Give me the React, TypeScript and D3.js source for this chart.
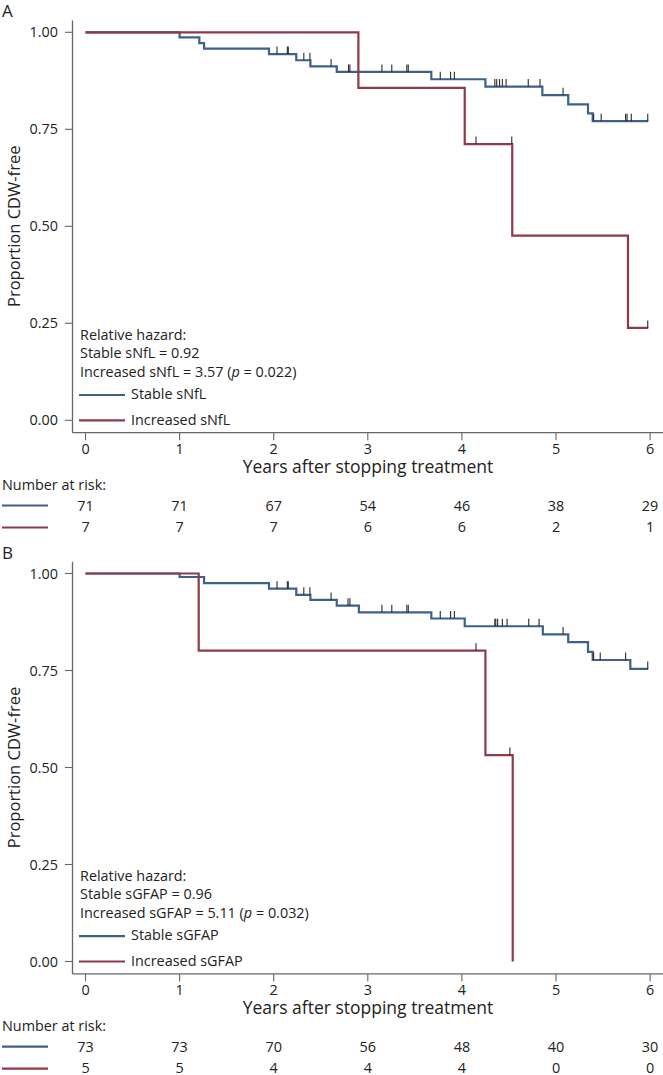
import React from "react";
import * as d3 from "d3";

// ---------- DATA ----------
const xTicks = [0, 1, 2, 3, 4, 5, 6];
const yTicks = [0, 0.25, 0.5, 0.75, 1];

// Panel A (sNfL)
const aStableTimes = [0, 1.0, 1.21, 1.26, 1.95, 2.24, 2.39, 2.67, 3.675, 4.25, 4.855, 5.13, 5.34, 5.39];
const aStableSurv = [1, 0.987, 0.972, 0.958, 0.944, 0.928, 0.912, 0.898, 0.879, 0.86, 0.838, 0.814, 0.791, 0.771];
const aStableEnd = 5.98;
const aStableCensor = [2.035, 2.145, 2.155, 2.32, 2.385, 2.61, 2.795, 2.81, 3.15, 3.255, 3.415, 3.43, 3.77, 3.88, 3.92, 4.35, 4.37, 4.4, 4.43, 4.47, 4.705, 4.83, 5.075, 5.4, 5.48, 5.74, 5.755, 5.8, 5.975];
const aIncTimes = [0, 2.9, 4.03, 4.535, 5.765];
const aIncSurv = [1, 0.857, 0.712, 0.476, 0.238];
const aIncEnd = 5.98;
const aIncCensor = [4.15, 4.53, 5.975];
const aRiskStable = [71, 71, 67, 54, 46, 38, 29];
const aRiskInc = [7, 7, 7, 6, 6, 2, 1];
const aHazard = ["Relative hazard:", "Stable sNfL = 0.92", "Increased sNfL = 3.57"];
const aP = "0.022";
const aLegend = ["Stable sNfL", "Increased sNfL"];

// Panel B (sGFAP)
const bStableTimes = [0, 1.0, 1.26, 1.95, 2.24, 2.39, 2.67, 2.905, 3.675, 4.03, 4.86, 5.13, 5.34, 5.39, 5.79];
const bStableSurv = [1, 0.991, 0.975, 0.961, 0.945, 0.932, 0.917, 0.9, 0.884, 0.864, 0.843, 0.823, 0.798, 0.777, 0.754];
const bStableEnd = 5.98;
const bStableCensor = [2.035, 2.145, 2.155, 2.32, 2.385, 2.61, 2.79, 2.81, 3.15, 3.255, 3.415, 3.43, 3.77, 3.88, 3.92, 4.35, 4.36, 4.38, 4.43, 4.48, 4.71, 4.82, 5.075, 5.4, 5.47, 5.74, 5.975];
const bIncTimes = [0, 1.203, 4.25, 4.54];
const bIncSurv = [1, 0.801, 0.532, 0.0];
const bIncEnd = 4.54;
const bIncCensor = [4.15, 4.51];
const bRiskStable = [73, 73, 70, 56, 48, 40, 30];
const bRiskInc = [5, 5, 4, 4, 4, 0, 0];
const bHazard = ["Relative hazard:", "Stable sGFAP = 0.96", "Increased sGFAP = 5.11"];
const bP = "0.032";
const bLegend = ["Stable sGFAP", "Increased sGFAP"];

// ---------- STYLE ----------
const BLUE = "#3f5f8c";
const RED = "#8e3a4a";
const AXIS = "#666666";
const TXT = "#222222";
const FONT = "'Open Sans', 'Noto Sans', sans-serif";
const FS = 14.4;

const x = d3.scaleLinear().domain([0, 6]).range([85.5, 650.1]);
const y = d3.scaleLinear().domain([0, 1]).range([420.3, 32.3]);

const stepLine = d3
  .line<[number, number]>()
  .x((d) => x(d[0]))
  .y((d) => y(d[1]))
  .curve(d3.curveStepAfter);

function survAt(times: number[], surv: number[], t: number) {
  let s = surv[0];
  for (let i = 0; i < times.length; i++) if (times[i] <= t) s = surv[i];
  return s;
}

function Curve({ times, surv, end, censor, color }: any) {
  const pts: [number, number][] = times.map((t: number, i: number) => [t, surv[i]]);
  pts.push([end, surv[surv.length - 1]]);
  return (
    <g>
      <path d={stepLine(pts) || ""} fill="none" stroke={color} strokeWidth={2.2} />
      {censor.map((c: number, i: number) => {
        const s = survAt(times, surv, c);
        return (
          <line key={i} x1={x(c)} x2={x(c)} y1={y(s)} y2={y(s) - 7.5} stroke="#2a2a2a" strokeWidth={1.1} />
        );
      })}
    </g>
  );
}

function Panel({ letter, offset, stable, inc, riskS, riskI, hazard, p, legend }: any) {
  const axisY = 432.7;
  return (
    <g transform={`translate(0,${offset})`} fontFamily={FONT} fill={TXT}>
      <text x={2} y={11.5} dy="0.35em" fontSize={17}>{letter}</text>
      {/* y axis */}
      <line x1={72.5} x2={72.5} y1={20.5} y2={axisY} stroke={AXIS} strokeWidth={1.3} />
      {yTicks.map((t) => (
        <g key={t}>
          <line x1={65} x2={72.5} y1={y(t)} y2={y(t)} stroke={AXIS} strokeWidth={1.1} />
          <text x={58} y={y(t)} dy="0.35em" textAnchor="end" fontSize={FS}>{t.toFixed(2)}</text>
        </g>
      ))}
      <text transform={`translate(14,${(y(0) + y(1)) / 2}) rotate(-90)`} dy="0.35em" textAnchor="middle" fontSize={16.5}>
        Proportion CDW-free
      </text>
      {/* x axis */}
      <line x1={72.5} x2={663} y1={axisY} y2={axisY} stroke={AXIS} strokeWidth={1.3} />
      {xTicks.map((t) => (
        <g key={t}>
          <line x1={x(t)} x2={x(t)} y1={axisY} y2={axisY + 7.5} stroke={AXIS} strokeWidth={1.1} />
          <text x={x(t)} y={448.5} dy="0.35em" textAnchor="middle" fontSize={FS}>{t}</text>
        </g>
      ))}
      <text x={368} y={467} dy="0.35em" textAnchor="middle" fontSize={17.5}>Years after stopping treatment</text>
      {/* curves */}
      <Curve {...stable} color={BLUE} />
      <Curve {...inc} color={RED} />
      {/* hazard text */}
      <text x={80} y={335} dy="0.35em" fontSize={FS}>{hazard[0]}</text>
      <text x={80} y={353} dy="0.35em" fontSize={FS}>{hazard[1]}</text>
      <text x={80} y={371.5} dy="0.35em" fontSize={FS}>
        {hazard[2]} (<tspan fontStyle="italic">p</tspan> = {p})
      </text>
      {/* legend */}
      <line x1={79} x2={125} y1={395} y2={395} stroke={BLUE} strokeWidth={2.2} />
      <text x={131} y={394} dy="0.35em" fontSize={FS}>{legend[0]}</text>
      <line x1={79} x2={125} y1={420.3} y2={420.3} stroke={RED} strokeWidth={2.2} />
      <text x={131} y={419.5} dy="0.35em" fontSize={FS}>{legend[1]}</text>
      {/* risk table */}
      <text x={2} y={485} dy="0.35em" fontSize={FS}>Number at risk:</text>
      <line x1={2} x2={48} y1={505.5} y2={505.5} stroke={BLUE} strokeWidth={2.2} />
      <line x1={2} x2={48} y1={527.5} y2={527.5} stroke={RED} strokeWidth={2.2} />
      {xTicks.map((t, i) => (
        <g key={t}>
          <text x={x(t)} y={505.5} dy="0.35em" textAnchor="middle" fontSize={FS}>{riskS[i]}</text>
          <text x={x(t)} y={526.5} dy="0.35em" textAnchor="middle" fontSize={FS}>{riskI[i]}</text>
        </g>
      ))}
    </g>
  );
}

export default function App() {
  return (
    <svg width={663} height={1075} style={{ position: "absolute", left: 0, top: 0, background: "#fff" }}>
      <rect width={663} height={1075} fill="#fff" />
      <Panel
        letter="A"
        offset={0}
        stable={{ times: aStableTimes, surv: aStableSurv, end: aStableEnd, censor: aStableCensor }}
        inc={{ times: aIncTimes, surv: aIncSurv, end: aIncEnd, censor: aIncCensor }}
        riskS={aRiskStable}
        riskI={aRiskInc}
        hazard={aHazard}
        p={aP}
        legend={aLegend}
      />
      <Panel
        letter="B"
        offset={541.2}
        stable={{ times: bStableTimes, surv: bStableSurv, end: bStableEnd, censor: bStableCensor }}
        inc={{ times: bIncTimes, surv: bIncSurv, end: bIncEnd, censor: bIncCensor }}
        riskS={bRiskStable}
        riskI={bRiskInc}
        hazard={bHazard}
        p={bP}
        legend={bLegend}
      />
    </svg>
  );
}
